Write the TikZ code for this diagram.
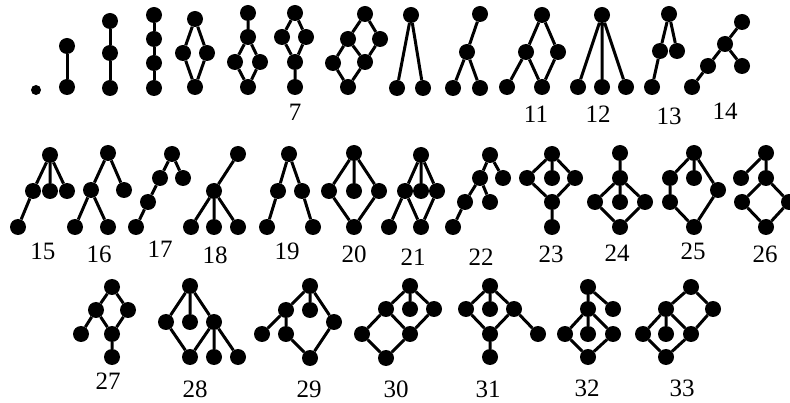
\documentclass[tikz,border=0pt]{standalone}
\usepackage{fontspec}
\setmainfont{Liberation Serif}
\usepackage{tikz}

\tikzset{
  vert/.style={circle, fill=black, inner sep=0pt, minimum size=16pt},
  link/.style={line width=3pt},
  num/.style={inner sep=0pt, font=\fontsize{25}{25}\selectfont}
}

\begin{document}
\begin{tikzpicture}[x=1pt, y=-1pt]
  \useasboundingbox (0,0) rectangle (790,403);

  % first row
  \node[vert, minimum size=10pt] (g1a) at (36,90) {};

  \node[vert] (g2a) at (67,46) {}; \node[vert] (g2b) at (67,87) {};
  \draw[link] (g2a) -- (g2b);

  \node[vert] (g3a) at (110,21) {}; \node[vert] (g3b) at (110,53) {}; \node[vert] (g3c) at (110,88) {};
  \draw[link] (g3a) -- (g3b) -- (g3c);

  \node[vert] (g4a) at (154,15) {}; \node[vert] (g4b) at (154,39) {};
  \node[vert] (g4c) at (154,63) {}; \node[vert] (g4d) at (154,88) {};
  \draw[link] (g4a) -- (g4b) -- (g4c) -- (g4d);

  \node[vert] (g5a) at (195,19) {}; \node[vert] (g5b) at (183,53) {};
  \node[vert] (g5c) at (207,53) {}; \node[vert] (g5d) at (195,87) {};
  \draw[link] (g5a) -- (g5b) -- (g5d) -- (g5c) -- (g5a);

  \node[vert] (g6a) at (248,13) {}; \node[vert] (g6b) at (248,37) {}; \node[vert] (g6c) at (235,62) {};
  \node[vert] (g6d) at (260,62) {}; \node[vert] (g6e) at (248,87) {};
  \draw[link] (g6a) -- (g6b) -- (g6c) -- (g6e) -- (g6d) -- (g6b);

  \node[vert] (g7a) at (295,13) {}; \node[vert] (g7b) at (282,37) {}; \node[vert] (g7c) at (306,37) {};
  \node[vert] (g7d) at (295,62) {}; \node[vert] (g7e) at (295,87) {};
  \draw[link] (g7a) -- (g7b) -- (g7d) -- (g7c) -- (g7a) (g7d) -- (g7e);
  \node[num] (n7) at (295,112) {7};

  \node[vert] (g8a) at (365,14) {}; \node[vert] (g8b) at (348,39) {}; \node[vert] (g8c) at (380,39) {};
  \node[vert] (g8d) at (333,63) {}; \node[vert] (g8e) at (365,62) {}; \node[vert] (g8f) at (348,87) {};
  \draw[link] (g8a) -- (g8b) -- (g8d) -- (g8f) -- (g8e) -- (g8c) -- (g8a) (g8b) -- (g8e);

  \node[vert] (g9a) at (411,15) {}; \node[vert] (g9b) at (397,88) {}; \node[vert] (g9c) at (423,88) {};
  \draw[link] (g9b) -- (g9a) -- (g9c);

  \node[vert] (g10a) at (480,14) {}; \node[vert] (g10b) at (467,52) {};
  \node[vert] (g10c) at (453,88) {}; \node[vert] (g10d) at (480,88) {};
  \draw[link] (g10a) -- (g10b) -- (g10c) (g10b) -- (g10d);

  \node[vert] (g11a) at (542,15) {}; \node[vert] (g11b) at (526,52) {}; \node[vert] (g11c) at (558,52) {};
  \node[vert] (g11d) at (507,87) {}; \node[vert] (g11e) at (542,87) {};
  \draw[link] (g11a) -- (g11b) -- (g11e) -- (g11c) -- (g11a) (g11b) -- (g11d);
  \node[num] (n11) at (536,114) {11};

  \node[vert] (g12a) at (602,15) {}; \node[vert] (g12b) at (578,87) {};
  \node[vert] (g12c) at (602,87) {}; \node[vert] (g12d) at (626,87) {};
  \draw[link] (g12a) -- (g12b) (g12a) -- (g12c) (g12a) -- (g12d);
  \node[num] (n12) at (598,114) {12};

  \node[vert] (g13a) at (669,14) {}; \node[vert] (g13b) at (660,51) {};
  \node[vert] (g13c) at (677,51) {}; \node[vert] (g13d) at (652,87) {};
  \draw[link] (g13c) -- (g13a) -- (g13b) -- (g13d);
  \node[num] (n13) at (669,116) {13};

  \node[vert] (g14a) at (742,22) {}; \node[vert] (g14b) at (725,44) {}; \node[vert] (g14c) at (708,66) {};
  \node[vert] (g14d) at (742,66) {}; \node[vert] (g14e) at (692,87) {};
  \draw[link] (g14a) -- (g14b) -- (g14c) -- (g14e) (g14b) -- (g14d);
  \node[num] (n14) at (725,111) {14};

  % second row
  \node[vert] (g15a) at (50,155) {}; \node[vert] (g15b) at (33,191) {}; \node[vert] (g15c) at (50,191) {};
  \node[vert] (g15d) at (67,191) {}; \node[vert] (g15e) at (18,227) {};
  \draw[link] (g15a) -- (g15b) -- (g15e) (g15a) -- (g15c) (g15a) -- (g15d);
  \node[num] (n15) at (43,251) {15};

  \node[vert] (g16a) at (108,153) {}; \node[vert] (g16b) at (91,190) {}; \node[vert] (g16c) at (124,190) {};
  \node[vert] (g16d) at (75,227) {}; \node[vert] (g16e) at (108,227) {};
  \draw[link] (g16c) -- (g16a) -- (g16b) -- (g16d) (g16b) -- (g16e);
  \node[num] (n16) at (99,254) {16};

  \node[vert] (g17a) at (172,154) {}; \node[vert] (g17b) at (160,178) {}; \node[vert] (g17c) at (183,178) {};
  \node[vert] (g17d) at (148,202) {}; \node[vert] (g17e) at (136,227) {};
  \draw[link] (g17c) -- (g17a) -- (g17b) -- (g17d) -- (g17e);
  \node[num] (n17) at (160,249) {17};

  \node[vert] (g18a) at (238,154) {}; \node[vert] (g18b) at (214,191) {}; \node[vert] (g18c) at (191,227) {};
  \node[vert] (g18d) at (214,227) {}; \node[vert] (g18e) at (238,227) {};
  \draw[link] (g18a) -- (g18b) -- (g18c) (g18b) -- (g18d) (g18b) -- (g18e);
  \node[num] (n18) at (215,255) {18};

  \node[vert] (g19a) at (289,154) {}; \node[vert] (g19b) at (278,191) {}; \node[vert] (g19c) at (302,191) {};
  \node[vert] (g19d) at (267,227) {}; \node[vert] (g19e) at (313,227) {};
  \draw[link] (g19d) -- (g19b) -- (g19a) -- (g19c) -- (g19e);
  \node[num] (n19) at (287,251) {19};

  \node[vert] (g20a) at (354,153) {}; \node[vert] (g20b) at (329,191) {}; \node[vert] (g20c) at (354,191) {};
  \node[vert] (g20d) at (379,191) {}; \node[vert] (g20e) at (354,227) {};
  \draw[link] (g20a) -- (g20b) -- (g20e) -- (g20d) -- (g20a) -- (g20c);
  \node[num] (n20) at (354,254) {20};

  \node[vert] (g21a) at (421,155) {}; \node[vert] (g21b) at (405,191) {}; \node[vert] (g21c) at (421,191) {};
  \node[vert] (g21d) at (437,191) {}; \node[vert] (g21e) at (389,227) {}; \node[vert] (g21f) at (421,227) {};
  \draw[link] (g21a) -- (g21b) -- (g21f) -- (g21d) -- (g21a) -- (g21c) (g21b) -- (g21e);
  \node[num] (n21) at (413,257) {21};

  \node[vert] (g22a) at (490,155) {}; \node[vert] (g22b) at (480,178) {}; \node[vert] (g22c) at (503,178) {};
  \node[vert] (g22d) at (465,202) {}; \node[vert] (g22e) at (490,202) {}; \node[vert] (g22f) at (453,227) {};
  \draw[link] (g22c) -- (g22a) -- (g22b) -- (g22d) -- (g22f) (g22b) -- (g22e);
  \node[num] (n22) at (481,257) {22};

  \node[vert] (g23a) at (552,154) {}; \node[vert] (g23b) at (527,178) {}; \node[vert] (g23c) at (552,178) {};
  \node[vert] (g23d) at (575,178) {}; \node[vert] (g23e) at (552,202) {}; \node[vert] (g23f) at (552,227) {};
  \draw[link] (g23a) -- (g23b) -- (g23e) -- (g23d) -- (g23a) -- (g23c) (g23e) -- (g23f);
  \node[num] (n23) at (551,254) {23};

  \node[vert] (g24a) at (620,153) {}; \node[vert] (g24b) at (620,178) {}; \node[vert] (g24c) at (595,202) {};
  \node[vert] (g24d) at (620,202) {}; \node[vert] (g24e) at (645,202) {}; \node[vert] (g24f) at (620,227) {};
  \draw[link] (g24a) -- (g24b) -- (g24c) -- (g24f) -- (g24e) -- (g24b) -- (g24d);
  \node[num] (n24) at (617,253) {24};

  \node[vert] (g25a) at (694,153) {}; \node[vert] (g25b) at (670,178) {}; \node[vert] (g25c) at (694,178) {};
  \node[vert] (g25d) at (718,190) {}; \node[vert] (g25e) at (670,202) {}; \node[vert] (g25f) at (694,227) {};
  \draw[link] (g25a) -- (g25b) -- (g25e) -- (g25f) -- (g25d) -- (g25a) -- (g25c);
  \node[num] (n25) at (693,251) {25};

  \node[vert] (g26a) at (766,153) {}; \node[vert] (g26b) at (741,178) {}; \node[vert] (g26c) at (766,178) {};
  \node[vert] (g26d) at (742,202) {}; \node[vert] (g26e) at (789,202) {}; \node[vert] (g26f) at (766,227) {};
  \draw[link] (g26b) -- (g26a) -- (g26c) -- (g26d) -- (g26f) -- (g26e) -- (g26c);
  \node[num] (n26) at (765,254) {26};

  % third row
  \node[vert] (g27a) at (112,287) {}; \node[vert] (g27b) at (96,310) {}; \node[vert] (g27c) at (128,310) {};
  \node[vert] (g27d) at (81,334) {}; \node[vert] (g27e) at (112,334) {}; \node[vert] (g27f) at (112,357) {};
  \draw[link] (g27a) -- (g27b) -- (g27e) -- (g27c) -- (g27a) (g27b) -- (g27d) (g27e) -- (g27f);
  \node[num] (n27) at (108,381) {27};

  \node[vert] (g28a) at (190,286) {}; \node[vert] (g28b) at (166,322) {}; \node[vert] (g28c) at (190,322) {};
  \node[vert] (g28d) at (214,322) {}; \node[vert] (g28e) at (190,357) {}; \node[vert] (g28f) at (214,357) {};
  \node[vert] (g28g) at (238,357) {};
  \draw[link] (g28a) -- (g28b) -- (g28e) -- (g28d) -- (g28a) -- (g28c) (g28d) -- (g28f) (g28d) -- (g28g);
  \node[num] (n28) at (195,389) {28};

  \node[vert] (g29a) at (310,286) {}; \node[vert] (g29b) at (286,310) {}; \node[vert] (g29c) at (310,310) {};
  \node[vert] (g29d) at (334,322) {}; \node[vert] (g29e) at (262,334) {}; \node[vert] (g29f) at (286,334) {};
  \node[vert] (g29g) at (310,358) {};
  \draw[link] (g29a) -- (g29b) -- (g29f) -- (g29g) -- (g29d) -- (g29a) -- (g29c) (g29b) -- (g29e);
  \node[num] (n29) at (309,389) {29};

  \node[vert] (g30a) at (410,286) {}; \node[vert] (g30b) at (386,309) {}; \node[vert] (g30c) at (410,309) {};
  \node[vert] (g30d) at (434,309) {}; \node[vert] (g30e) at (362,334) {}; \node[vert] (g30f) at (410,334) {};
  \node[vert] (g30g) at (386,358) {};
  \draw[link] (g30a) -- (g30b) -- (g30e) -- (g30g) -- (g30f) -- (g30d) -- (g30a) -- (g30c) (g30b) -- (g30f);
  \node[num] (n30) at (396,389) {30};

  \node[vert] (g31a) at (490,286) {}; \node[vert] (g31b) at (466,309) {}; \node[vert] (g31c) at (490,309) {};
  \node[vert] (g31d) at (514,309) {}; \node[vert] (g31e) at (490,334) {}; \node[vert] (g31f) at (538,334) {};
  \node[vert] (g31g) at (490,357) {};
  \draw[link] (g31a) -- (g31b) -- (g31e) -- (g31d) -- (g31a) -- (g31c) (g31d) -- (g31f) (g31e) -- (g31g);
  \node[num] (n31) at (488,389) {31};

  \node[vert] (g32a) at (588,287) {}; \node[vert] (g32b) at (588,309) {}; \node[vert] (g32c) at (613,309) {};
  \node[vert] (g32d) at (565,334) {}; \node[vert] (g32e) at (588,334) {}; \node[vert] (g32f) at (613,334) {};
  \node[vert] (g32g) at (588,357) {};
  \draw[link] (g32c) -- (g32a) -- (g32b) -- (g32d) -- (g32g) -- (g32f) -- (g32b) -- (g32e);
  \node[num] (n32) at (587,388) {32};

  \node[vert] (g33a) at (691,287) {}; \node[vert] (g33b) at (666,309) {}; \node[vert] (g33c) at (713,309) {};
  \node[vert] (g33d) at (643,334) {}; \node[vert] (g33e) at (666,334) {}; \node[vert] (g33f) at (691,334) {};
  \node[vert] (g33g) at (666,357) {};
  \draw[link] (g33a) -- (g33b) -- (g33d) -- (g33g) -- (g33f) -- (g33c) -- (g33a) (g33b) -- (g33e) (g33b) -- (g33f);
  \node[num] (n33) at (682,388) {33};
\end{tikzpicture}
\end{document}
